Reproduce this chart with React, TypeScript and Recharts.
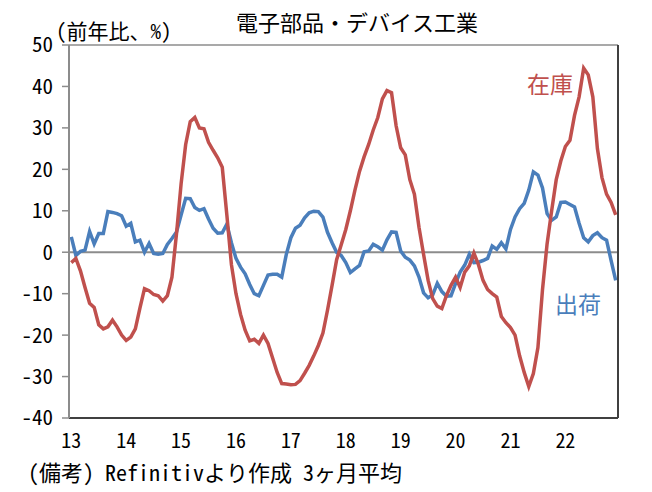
import { LineChart, Line, XAxis, YAxis, ReferenceLine } from 'recharts'

// 年（X軸ラベル）と月
const years = ['13', '14', '15', '16', '17', '18', '19', '20', '21', '22']
const monthNums = ['01', '02', '03', '04', '05', '06', '07', '08', '09', '10', '11', '12']
const months = years.flatMap((y) => monthNums.map((m) => `${y}-${m}`))
const xTicks = years.map((y) => `${y}-01`)
const yTicks = [-40, -30, -20, -10, 0, 10, 20, 30, 40, 50]

// 在庫（前年比、%、3ヶ月平均）
const inventory = [
  -2.5, -1.5, -4.5, -8.5, -12.3, -13.3, -17.5, -18.5, -18, -16.4, -18, -20,
  -21.3, -20.5, -18.5, -13.5, -8.8, -9.3, -10.2, -10.5, -11.8, -10.5, -6, 4.5,
  16.5, 26, 31.5, 32.5, 30, 29.8, 26.5, 24.6, 22.8, 20.5, 9, -3,
  -10, -15, -18.8, -21.4, -21, -22, -20, -22, -25.5, -29, -31.7, -31.8,
  -32, -31.9, -31, -29.2, -27.3, -25, -22.5, -19.5, -14, -8, -1.8, 1.8,
  5.5, 10, 15, 19.5, 23, 26, 29.5, 32.5, 37, 39, 38.5, 30.5,
  25.2, 23.5, 17.5, 14, 6, -0.5, -6.8, -11.2, -13, -13.6, -10.5, -8,
  -6, -8.5, -4.8, -3.3, -0.2, -3, -6.8, -9, -10, -10.8, -15.5, -17,
  -18.2, -20, -25, -29, -32.4, -29.3, -23, -9, 2, 10, 17.5, 22,
  25.5, 27, 33, 37.5, 44.4, 42.8, 37.5, 25, 18, 14, 12, 9,
]

// 出荷
const shipments = [
  3.7, -0.8, 0.2, 0.5, 5, 2, 4.5, 4.5, 9.8, 9.6, 9.3, 8.8,
  6.3, 7, 2.5, 2.9, 0, 2.1, -0.3, -0.5, -0.3, 1.9, 3.3, 4.9,
  9, 13, 12.9, 10.8, 10.1, 10.5, 8, 5.8, 4.6, 4.7, 6.8, 2.3,
  -1.5, -3.6, -5.2, -7.8, -10, -10.5, -8, -5.5, -5.3, -5.3, -6, -0.5,
  3.5, 5.8, 6.5, 8.3, 9.5, 9.9, 9.8, 8.5, 4.8, 2.3, 0, -0.8,
  -2.5, -4.9, -4, -3.2, 0.1, 0.3, 1.9, 1.3, 0.5, 3, 4.9, 4.8,
  0.3, -1.2, -1.9, -3.3, -6, -9.8, -11, -10.3, -7.5, -9.5, -10.6, -10.5,
  -7.5, -4.8, -3.1, -0.5, -2.5, -2.4, -2, -1.5, 1.5, 0.7, 2.3, 0.8,
  5.5, 8.5, 10.5, 11.8, 15, 19.4, 18.6, 15.5, 9.3, 7.7, 8.5, 12,
  12.1, 11.5, 10.9, 7, 3.5, 2.5, 4, 4.7, 3.5, 2.9, -2, -6.8,
]

const data = months.map((m, i) => ({ m, inventory: inventory[i], shipments: shipments[i] }))

// 等幅（半角 0.5em）の日本語フォントがあれば使う
const FONT = '"Noto Sans Mono CJK JP", "Noto Sans CJK JP", "Noto Sans", sans-serif'
const RED = '#C0504D'
const BLUE = '#4A7EBB'

const abs = (left: number, top: number, size: number, color = '#000'): React.CSSProperties => ({
  position: 'absolute',
  left,
  top,
  fontSize: size,
  lineHeight: 1,
  color,
  whiteSpace: 'nowrap',
})

export default function App() {
  return (
    <div style={{ position: 'absolute', left: 0, top: 0, width: 652, height: 492, background: '#fff', fontFamily: FONT }}>
      <LineChart
        width={652}
        height={492}
        data={data}
        margin={{ top: 44, right: 33, left: 9, bottom: 44 }}
      >
        <XAxis
          xAxisId="top"
          orientation="top"
          dataKey="m"
          height={1}
          tick={false}
          tickLine={false}
          axisLine={{ stroke: '#8c8c8c', strokeWidth: 1.5 }}
          padding={{ left: 2.3, right: 2.3 }}
        />
        <XAxis
          dataKey="m"
          ticks={xTicks}
          interval={0}
          tickFormatter={(v: string) => v.slice(0, 2)}
          tickLine={false}
          tickMargin={10}
          axisLine={{ stroke: '#000', strokeWidth: 1.5 }}
          tick={{ fill: '#000', fontSize: 20, fontFamily: FONT }}
          padding={{ left: 2.3, right: 2.3 }}
          height={30}
        />
        <YAxis
          domain={[-40, 50]}
          ticks={yTicks}
          interval={0}
          width={60}
          tickSize={7}
          tickMargin={9}
          tickLine={{ stroke: '#8c8c8c', strokeWidth: 1.5 }}
          axisLine={{ stroke: '#8c8c8c', strokeWidth: 2 }}
          tick={{ fill: '#000', fontSize: 21, fontFamily: FONT }}
        />
        <YAxis
          yAxisId="right"
          orientation="right"
          domain={[-40, 50]}
          width={1}
          tick={false}
          tickLine={false}
          axisLine={{ stroke: '#404040', strokeWidth: 2 }}
        />
        <ReferenceLine y={0} stroke="#8c8c8c" strokeWidth={2} />
        <Line
          type="linear"
          dataKey="shipments"
          stroke={BLUE}
          strokeWidth={3.5}
          dot={false}
          isAnimationActive={false}
        />
        <Line
          type="linear"
          dataKey="inventory"
          stroke={RED}
          strokeWidth={3.5}
          dot={false}
          isAnimationActive={false}
        />
      </LineChart>

      <div style={abs(236, 10, 22)}>電子部品・デバイス工業</div>
      <div style={abs(56, 20, 21)}>(前年比、%)</div>
      <div style={abs(527, 72, 23, RED)}>在庫</div>
      <div style={abs(555, 292, 23, BLUE)}>出荷</div>
      <div style={abs(28, 460, 22)}>(備考) Refinitivより作成 3ヶ月平均</div>
    </div>
  )
}
